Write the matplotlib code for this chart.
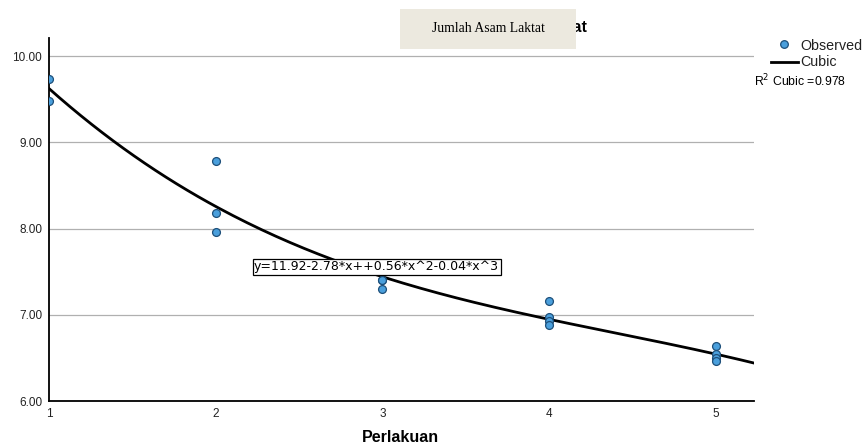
import numpy as np
import matplotlib.pyplot as plt
from matplotlib.patches import Rectangle

plt.rcParams['font.family'] = ['Liberation Sans', 'DejaVu Sans']

# nilai pengamatan per perlakuan
perlakuan = [1, 1, 2, 2, 2, 3, 3, 3, 4, 4, 4, 4, 5, 5, 5, 5]
asam_laktat = [9.73, 9.48, 8.78, 8.18, 7.96, 7.40, 7.40, 7.30,
               7.16, 6.97, 6.93, 6.88, 6.64, 6.54, 6.50, 6.46]
y_ticks = [6.00, 7.00, 8.00, 9.00, 10.00]
x_ticks = [1, 2, 3, 4, 5]
r2_cubic = 0.978
persamaan = "y=11.92-2.78*x++0.56*x^2-0.04*x^3"

fig = plt.figure(figsize=(8.66, 4.44), dpi=100)
ax = fig.add_axes([0.0566, 0.0968, 0.8141, 0.8176])

# garis cubic dari fit data
koef = np.polyfit(perlakuan, asam_laktat, 3)
xs = np.linspace(1, 5.23, 200)
ax.plot(xs, np.polyval(koef, xs), color='black', lw=2, zorder=3, label='Cubic')

ax.scatter(perlakuan, asam_laktat, s=32, color='#4a9fdc', edgecolor='#1d4f7a',
           linewidth=0.9, zorder=4, label='Observed')

ax.set_xlim(1, 5.23)
ax.set_ylim(6.0, 10.21)
ax.set_yticks(y_ticks)
ax.set_yticklabels([f"{v:.2f}" for v in y_ticks], fontsize=8.5, color='#222222')
ax.set_xticks(x_ticks)
ax.set_xticklabels([str(v) for v in x_ticks], fontsize=8.5, color='#222222')
ax.tick_params(length=0, pad=5)
ax.grid(True, axis='y', color='#b0b0b0', lw=0.9)
ax.set_axisbelow(True)
for s in ['top', 'right']:
    ax.spines[s].set_visible(False)
for s in ['left', 'bottom']:
    ax.spines[s].set_linewidth(1.3)

fig.text(400 / 866, 1 - 437 / 444, 'Perlakuan', fontsize=11.5, fontweight='bold',
         ha='center', va='center')

# kotak persamaan
ax.text(2.23, 7.56, persamaan, family='DejaVu Sans', fontsize=9.0, va='center', ha='left',
        bbox=dict(boxstyle='square,pad=0.12', fc='white', ec='black', lw=0.9), zorder=5)

# judul asli tertutup kotak
fig.text(587 / 866, 1 - 27 / 444, 'Jumlah Asam Laktat', fontsize=11.5, fontweight='bold',
         ha='right', va='center')
fig.patches.append(Rectangle((400 / 866, 1 - 49 / 444), 176 / 866, 40 / 444,
                             transform=fig.transFigure, fc='#ece9df', ec='none', zorder=10))
fig.text(488 / 866, 1 - 28 / 444, 'Jumlah Asam Laktat', family='Liberation Serif',
         fontsize=9.8, ha='center', va='center', zorder=11)

# legenda
fig.text(800 / 866, 1 - 46 / 444, 'Observed', fontsize=10.3, va='center', color='#222222')
fig.text(800 / 866, 1 - 62 / 444, 'Cubic', fontsize=10.3, va='center', color='#222222')
fig.text(754 / 866, 1 - 81 / 444, f'R$^2$ Cubic ={r2_cubic}', fontsize=8.8, va='center')
fig.add_artist(plt.Line2D([771 / 866, 798 / 866], [1 - 62 / 444, 1 - 62 / 444],
                          color='black', lw=2))
fig.add_artist(plt.Line2D([784 / 866], [1 - 44 / 444], marker='o', ms=5.5,
                          mfc='#4a9fdc', mec='#1d4f7a', mew=0.9, ls='none'))

fig.savefig('out.png', dpi=100)
